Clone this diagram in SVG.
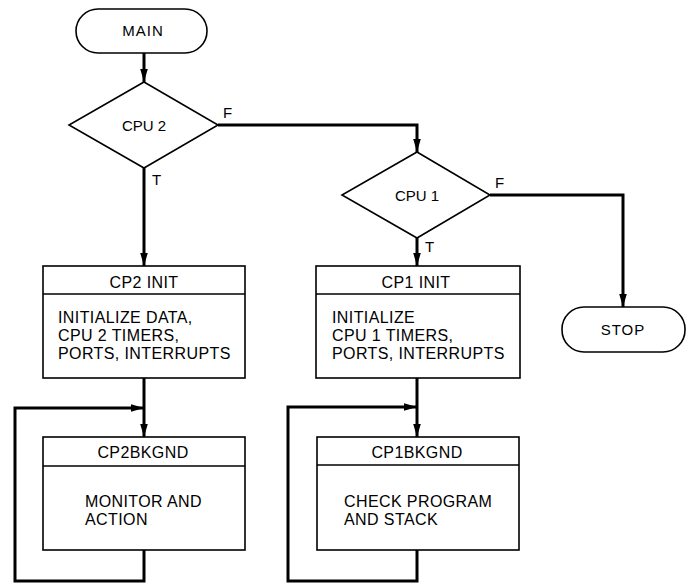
<svg xmlns="http://www.w3.org/2000/svg" width="691" height="584" viewBox="0 0 691 584">
<defs>
<marker id="arr" markerUnits="userSpaceOnUse" markerWidth="14" markerHeight="10" refX="13" refY="4.5" orient="auto">
<path d="M0,0.7 L13,4.5 L0,8.3 Z" fill="#000"/>
</marker>
<style>
.shape{fill:#fff;stroke:#000;stroke-width:1.6}
.conn{fill:none;stroke:#000;stroke-width:3;stroke-linejoin:miter}
text{font-family:"Liberation Sans",Arial,sans-serif;font-size:15px;fill:#000}
.c{text-anchor:middle}
.b{font-size:16px;letter-spacing:0.4px}
.t{letter-spacing:1px}
</style>
</defs>
<rect width="691" height="584" fill="#fff"/>
<g id="connectors">
<path class="conn" d="M144,53 V82" marker-end="url(#arr)"/>
<path class="conn" d="M144,168 V266" marker-end="url(#arr)"/>
<path class="conn" d="M218,125 H417 V152" marker-end="url(#arr)"/>
<path class="conn" d="M417,238 V266" marker-end="url(#arr)"/>
<path class="conn" d="M490,195 H623 V307" marker-end="url(#arr)"/>
<path class="conn" d="M144,378 V437" marker-end="url(#arr)"/>
<path class="conn" d="M144,550 V581 H15 V408 H144" marker-end="url(#arr)"/>
<path class="conn" d="M417,378 V437" marker-end="url(#arr)"/>
<path class="conn" d="M417,550 V581 H288 V407 H417" marker-end="url(#arr)"/>
<text x="223" y="118">F</text>
<text x="152" y="185">T</text>
<text x="495" y="188">F</text>
<text x="425" y="252">T</text>
</g>
<g id="main">
<rect class="shape" x="76" y="9" width="131" height="44" rx="22" ry="22"/>
<text class="c t" x="143" y="36">MAIN</text>
</g>
<g id="cpu2">
<polygon class="shape" points="144,82 218,125 144,168 69,125"/>
<text class="c" x="144" y="131">CPU 2</text>
</g>
<g id="cpu1">
<polygon class="shape" points="417,152 490,195 417,238 342,195"/>
<text class="c" x="417" y="201">CPU 1</text>
</g>
<g id="stop">
<rect class="shape" x="562" y="307" width="123" height="45" rx="22" ry="22"/>
<text class="c t" x="623" y="335">STOP</text>
</g>
<g id="cp2init">
<rect class="shape" x="43" y="266" width="202" height="112"/>
<line class="shape" x1="43" y1="294" x2="245" y2="294"/>
<text class="c b" x="144" y="288">CP2 INIT</text>
<text class="b" x="58" y="323">INITIALIZE DATA,</text>
<text class="b" x="58" y="341">CPU 2 TIMERS,</text>
<text class="b" x="58" y="359">PORTS, INTERRUPTS</text>
</g>
<g id="cp1init">
<rect class="shape" x="316" y="266" width="204" height="112"/>
<line class="shape" x1="316" y1="294" x2="520" y2="294"/>
<text class="c b" x="416" y="288">CP1 INIT</text>
<text class="b" x="332" y="323">INITIALIZE</text>
<text class="b" x="332" y="341">CPU 1 TIMERS,</text>
<text class="b" x="332" y="359">PORTS, INTERRUPTS</text>
</g>
<g id="cp2bkgnd">
<rect class="shape" x="43" y="437" width="202" height="113"/>
<line class="shape" x1="43" y1="466" x2="245" y2="466"/>
<text class="c b" x="143" y="458">CP2BKGND</text>
<text class="b" x="85" y="507">MONITOR AND</text>
<text class="b" x="85" y="525">ACTION</text>
</g>
<g id="cp1bkgnd">
<rect class="shape" x="317" y="437" width="202" height="113"/>
<line class="shape" x1="317" y1="465" x2="519" y2="465"/>
<text class="c b" x="417" y="458">CP1BKGND</text>
<text class="b" x="344" y="507">CHECK PROGRAM</text>
<text class="b" x="344" y="525">AND STACK</text>
</g>
</svg>
